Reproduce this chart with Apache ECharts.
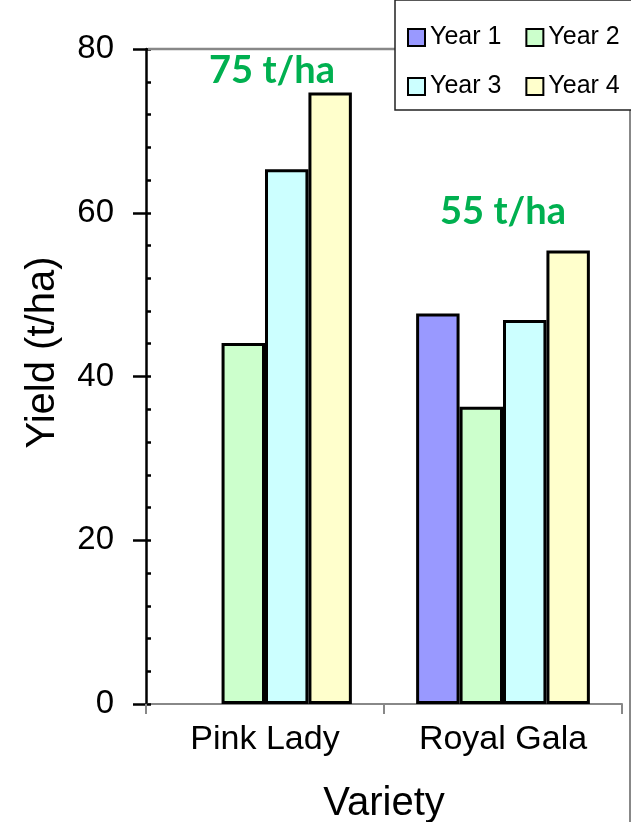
<!DOCTYPE html>
<html><head><meta charset="utf-8">
<script src="https://cdn.jsdelivr.net/npm/echarts@6/dist/echarts.min.js"></script>
<style>html,body{margin:0;padding:0;background:#fff}#c{width:631px;height:822px}</style>
</head><body><div id="c"></div>
<script>
// ---- data ----
const categories = ['Pink Lady', 'Royal Gala'];
const seriesNames = ['Year 1', 'Year 2', 'Year 3', 'Year 4'];
const year1 = [null, 47.7];
const year2 = [44.1, 36.3];
const year3 = [65.3, 46.9];
const year4 = [74.7, 55.4];
const yMin = 0, yMax = 80, yInterval = 20;
const annotationCats = ['Pink Lady', 'Royal Gala'];
const annotationTexts = ['75 t/ha', '55 t/ha'];
const annotationY = [77.4, 60.1];

const colors = ['#9999FF', '#CCFFCC', '#CCFFFF', '#FFFFCC'];
const values = [year1, year2, year3, year4];
const FONT = '"Liberation Sans", Arial, sans-serif';

const chart = echarts.init(document.getElementById('c'), null, {renderer: 'canvas'});

const series = seriesNames.map((name, i) => ({
  name: name,
  type: 'bar',
  data: values[i],
  barGap: 0,
  barCategoryGap: '27%',
  itemStyle: {color: colors[i], borderColor: '#000', borderWidth: 3},
  emphasis: {disabled: true}
}));

series.push({
  name: 'annotations',
  type: 'line',
  data: [],
  symbol: 'none',
  silent: true,
  markPoint: {
    symbol: 'circle',
    symbolSize: 1,
    itemStyle: {color: 'rgba(0,0,0,0)', borderWidth: 0},
    label: {
      show: true, position: 'inside', color: '#00B050',
      fontFamily: 'Lato, "Open Sans", sans-serif', fontWeight: 'bold', fontSize: 38
    },
    data: annotationCats.map((c, i) => ({
      coord: [c, annotationY[i]],
      label: {formatter: annotationTexts[i], offset: [i === 0 ? 7 : 0, 0]}
    }))
  }
});

chart.setOption({
  animation: false,
  grid: {left: 146, right: 9, top: 49, bottom: 118, containLabel: false, outerBoundsMode: 'none'},
  legend: {
    data: seriesNames,
    left: 395, top: 0,
    orient: 'horizontal',
    width: 220,
    itemWidth: 17, itemHeight: 17, itemGap: 24,
    padding: [25, 15, 11, 12],
    icon: 'rect',
    itemStyle: {borderColor: '#000', borderWidth: 2},
    textStyle: {fontSize: 25, width: 75, overflow: 'none', color: '#000', fontFamily: FONT},
    backgroundColor: '#fff',
    borderColor: '#222', borderWidth: 1.5
  },
  graphic: [
    {type: 'line', z: 1, shape: {x1: 148, y1: 49, x2: 630, y2: 49}, style: {stroke: '#888', lineWidth: 2.5}},
    {type: 'line', z: 1, shape: {x1: 630, y1: 0, x2: 630, y2: 822}, style: {stroke: '#888', lineWidth: 2}}
  ],
  xAxis: {
    type: 'category',
    data: categories,
    axisLine: {lineStyle: {color: '#888', width: 2}},
    axisTick: {show: true, length: 10, lineStyle: {color: '#888', width: 2}},
    axisLabel: {fontSize: 34, margin: 19, color: '#000', fontFamily: FONT},
    name: 'Variety', nameLocation: 'middle', nameGap: 80,
    nameTextStyle: {fontSize: 40, color: '#000', fontFamily: FONT},
    splitLine: {show: false}
  },
  yAxis: [
    {
      type: 'value', min: yMin, max: yMax, interval: yInterval, position: 'left',
      axisLine: {show: true, lineStyle: {color: '#000', width: 2.5}},
      axisTick: {show: true, inside: false, length: 13, lineStyle: {color: '#000', width: 2.5}},
      axisLabel: {fontSize: 33, margin: 32, color: '#000', fontFamily: FONT},
      splitLine: {show: false},
      name: 'Yield (t/ha)', nameLocation: 'middle', nameGap: 83,
      nameTextStyle: {fontSize: 40, color: '#000', fontFamily: FONT, padding: [0, 0, 0, 48]}
    },
    {
      type: 'value', min: yMin, max: yMax, interval: yInterval, position: 'left', offset: 0,
      axisLine: {show: false},
      axisTick: {show: true, inside: true, length: 5, lineStyle: {color: '#000', width: 2.5}},
      minorTick: {show: true, splitNumber: 5, length: 5, lineStyle: {color: '#000', width: 2.5}},
      axisLabel: {show: false},
      splitLine: {show: false}
    }
  ],
  series: series
});
</script></body></html>
